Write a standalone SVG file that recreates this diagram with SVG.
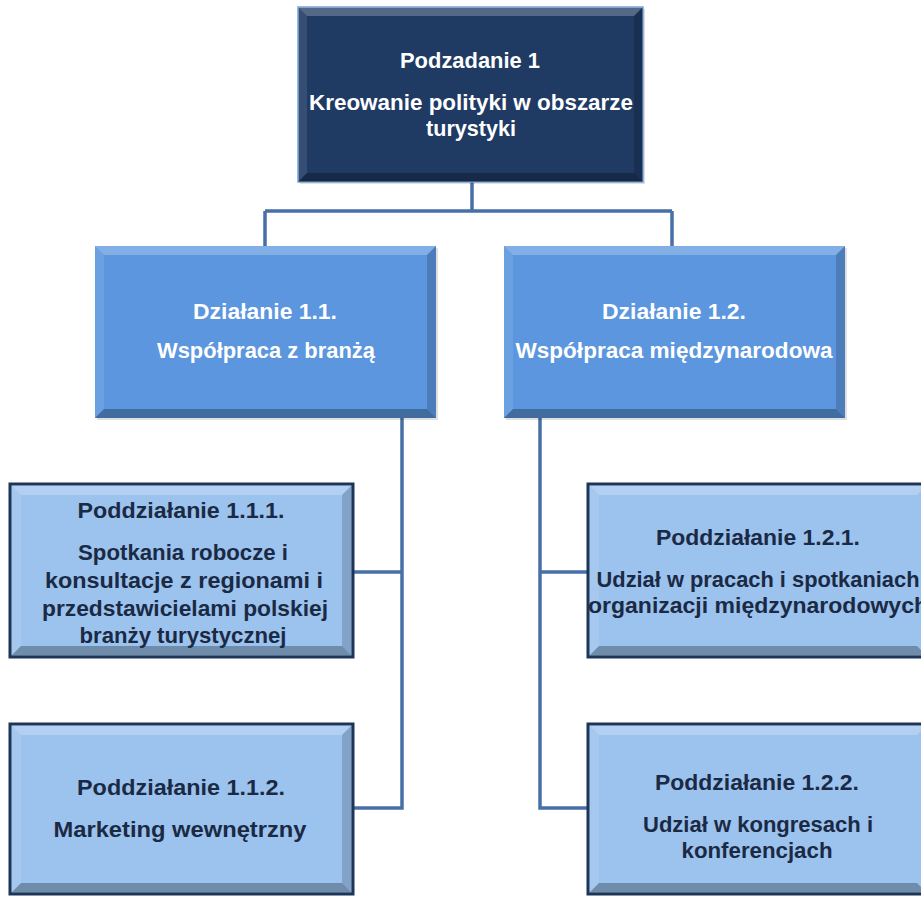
<svg xmlns="http://www.w3.org/2000/svg" width="921" height="897" viewBox="0 0 921 897">
<style>
.t{font-family:"Liberation Sans",Arial,sans-serif;font-weight:bold;font-size:22px;text-anchor:middle}
.w{fill:#ffffff}
.d{fill:#1b2a44}
.bt{fill:#ffffff;fill-opacity:0.24}
.bl{fill:#ffffff;fill-opacity:0.1}
.br{fill:#000000;fill-opacity:0.16}
.bb{fill:#000000;fill-opacity:0.28}
.conn{fill:none;stroke:#4670a6;stroke-width:3.5}
.sh{fill:#000000;fill-opacity:0.12}
</style>
<rect width="921" height="897" fill="#ffffff"/>
<g id="connectors">
<path class="conn" d="M472 182 V211 M265 211 H672 M265 211 V246 M672 211 V246"/>
<path class="conn" d="M402 418 V808 H353 M402 572 H353"/>
<path class="conn" d="M540 418 V808 H588 M540 572 H588"/>
</g>
<g id="n1">
<rect class="sh" x="300" y="9" width="345" height="175"/>
<rect x="298" y="7" width="345" height="175" fill="#1f3a63" stroke="#7aa4d6" stroke-width="1.5"/>
<polygon class="bt" points="298,7 643,7 634,16 307,16"/>
<polygon class="bl" points="298,7 307,16 307,173 298,182"/>
<polygon class="br" points="643,7 643,182 634,173 634,16"/>
<polygon class="bb" points="298,182 643,182 634,173 307,173"/>
<text class="t w" x="470" y="68" textLength="140" lengthAdjust="spacingAndGlyphs">Podzadanie 1</text>
<text class="t w" x="471" y="110" textLength="324" lengthAdjust="spacingAndGlyphs">Kreowanie polityki w obszarze</text>
<text class="t w" x="471" y="136" textLength="90" lengthAdjust="spacingAndGlyphs">turystyki</text>
</g>
<g id="n11">
<rect class="sh" x="97" y="248" width="341" height="172"/>
<rect x="95" y="246" width="341" height="172" fill="#5b96de"/>
<polygon class="bt" points="95,246 436,246 427,255 104,255"/>
<polygon class="bl" points="95,246 104,255 104,409 95,418"/>
<polygon class="br" points="436,246 436,418 427,409 427,255"/>
<polygon class="bb" points="95,418 436,418 427,409 104,409"/>
<text class="t w" x="265" y="319" textLength="144" lengthAdjust="spacingAndGlyphs">Działanie 1.1.</text>
<text class="t w" x="266" y="358" textLength="218" lengthAdjust="spacingAndGlyphs">Współpraca z branżą</text>
</g>
<g id="n12">
<rect class="sh" x="506" y="248" width="341" height="172"/>
<rect x="504" y="246" width="341" height="172" fill="#5b96de"/>
<polygon class="bt" points="504,246 845,246 836,255 513,255"/>
<polygon class="bl" points="504,246 513,255 513,409 504,418"/>
<polygon class="br" points="845,246 845,418 836,409 836,255"/>
<polygon class="bb" points="504,418 845,418 836,409 513,409"/>
<text class="t w" x="674" y="319" textLength="144" lengthAdjust="spacingAndGlyphs">Działanie 1.2.</text>
<text class="t w" x="674" y="358" textLength="317" lengthAdjust="spacingAndGlyphs">Współpraca międzynarodowa</text>
</g>
<g id="n111">
<rect x="10" y="484" width="343" height="173" fill="#9cc2ee" stroke="#1d3557" stroke-width="3"/>
<polygon class="bt" points="11.5,485.5 351.5,485.5 342,495 21,495"/>
<polygon class="bl" points="11.5,485.5 21,495 21,646 11.5,655.5"/>
<polygon class="br" points="351.5,485.5 351.5,655.5 342,646 342,495"/>
<polygon class="bb" points="11.5,655.5 351.5,655.5 342,646 21,646"/>
<text class="t d" x="181" y="518" textLength="207" lengthAdjust="spacingAndGlyphs">Poddziałanie 1.1.1.</text>
<text class="t d" x="183" y="560" textLength="210" lengthAdjust="spacingAndGlyphs">Spotkania robocze i</text>
<text class="t d" x="184" y="588" textLength="278" lengthAdjust="spacingAndGlyphs">konsultacje z regionami i</text>
<text class="t d" x="185" y="616" textLength="286" lengthAdjust="spacingAndGlyphs">przedstawicielami polskiej</text>
<text class="t d" x="183" y="643" textLength="207" lengthAdjust="spacingAndGlyphs">branży turystycznej</text>
</g>
<g id="n112">
<rect x="10" y="724" width="343" height="170" fill="#9cc2ee" stroke="#1d3557" stroke-width="3"/>
<polygon class="bt" points="11.5,725.5 351.5,725.5 342,735 21,735"/>
<polygon class="bl" points="11.5,725.5 21,735 21,883 11.5,892.5"/>
<polygon class="br" points="351.5,725.5 351.5,892.5 342,883 342,735"/>
<polygon class="bb" points="11.5,892.5 351.5,892.5 342,883 21,883"/>
<text class="t d" x="181" y="795" textLength="208" lengthAdjust="spacingAndGlyphs">Poddziałanie 1.1.2.</text>
<text class="t d" x="180" y="837" textLength="253" lengthAdjust="spacingAndGlyphs">Marketing wewnętrzny</text>
</g>
<g id="n121">
<rect x="588" y="484" width="340" height="173" fill="#9cc2ee" stroke="#1d3557" stroke-width="3"/>
<polygon class="bt" points="589.5,485.5 926.5,485.5 917,495 599,495"/>
<polygon class="bl" points="589.5,485.5 599,495 599,646 589.5,655.5"/>
<polygon class="bb" points="589.5,655.5 926.5,655.5 917,646 599,646"/>
<text class="t d" x="758" y="545" textLength="204" lengthAdjust="spacingAndGlyphs">Poddziałanie 1.2.1.</text>
<text class="t d" x="758" y="587" textLength="323" lengthAdjust="spacingAndGlyphs">Udział w pracach i spotkaniach</text>
<text class="t d" x="758" y="613" textLength="340" lengthAdjust="spacingAndGlyphs">organizacji międzynarodowych</text>
</g>
<g id="n122">
<rect x="588" y="724" width="340" height="170" fill="#9cc2ee" stroke="#1d3557" stroke-width="3"/>
<polygon class="bt" points="589.5,725.5 926.5,725.5 917,735 599,735"/>
<polygon class="bl" points="589.5,725.5 599,735 599,883 589.5,892.5"/>
<polygon class="bb" points="589.5,892.5 926.5,892.5 917,883 599,883"/>
<text class="t d" x="757" y="790" textLength="204" lengthAdjust="spacingAndGlyphs">Poddziałanie 1.2.2.</text>
<text class="t d" x="758" y="832" textLength="230" lengthAdjust="spacingAndGlyphs">Udział w kongresach i</text>
<text class="t d" x="757" y="858" textLength="151" lengthAdjust="spacingAndGlyphs">konferencjach</text>
</g>
</svg>
